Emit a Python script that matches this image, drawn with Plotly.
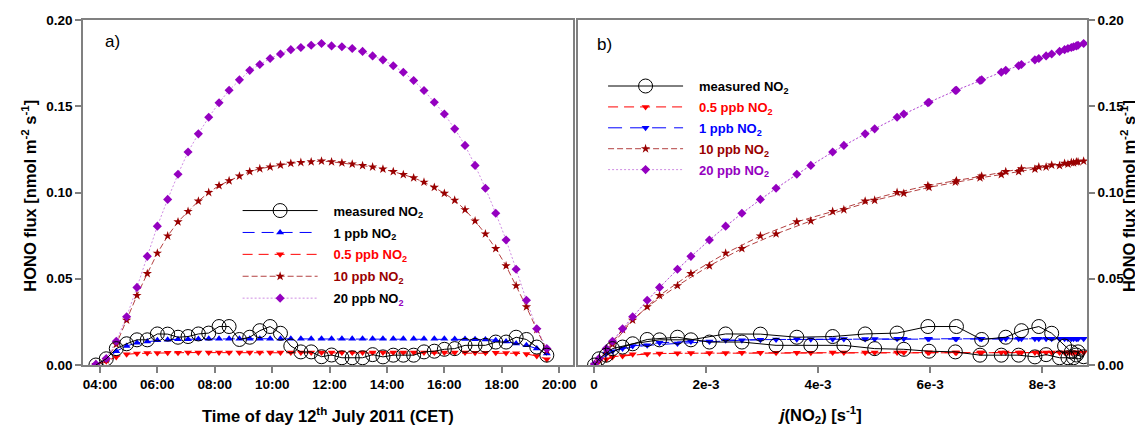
import plotly.graph_objects as go

# ---------------- data ----------------
time_h = [3.86, 4.22, 4.57, 4.93, 5.29, 5.65, 6.00, 6.36, 6.72, 7.07, 7.43, 7.79, 8.15, 8.50, 8.86,
          9.22, 9.57, 9.93, 10.29, 10.65, 11.00, 11.36, 11.72, 12.07, 12.43, 12.79, 13.15, 13.50,
          13.86, 14.22, 14.57, 14.93, 15.29, 15.65, 16.00, 16.36, 16.72, 17.07, 17.43, 17.79, 18.15,
          18.50, 18.86, 19.22, 19.57]

jno2 = [0.00001, 0.00009, 0.00033, 0.00069, 0.00117, 0.00173, 0.00235, 0.00297, 0.00362, 0.00426,
        0.00484, 0.00541, 0.00596, 0.00647, 0.00692, 0.00735, 0.00763, 0.00794, 0.00817, 0.00840,
        0.00852, 0.00864, 0.00874, 0.00861, 0.00856, 0.00846, 0.00831, 0.00807, 0.00787, 0.00758,
        0.00727, 0.00689, 0.00645, 0.00598, 0.00553, 0.00501, 0.00446, 0.00387, 0.00325, 0.00264,
        0.00206, 0.00149, 0.00095, 0.00051, 0.00022]

flux_measured = [0.0000, 0.0036, 0.0095, 0.0123, 0.0146, 0.0146, 0.0180, 0.0179, 0.0161, 0.0165,
                 0.0180, 0.0185, 0.0223, 0.0223, 0.0148, 0.0161, 0.0199, 0.0223, 0.0184, 0.0110,
                 0.0076, 0.0076, 0.0048, 0.0058, 0.0042, 0.0042, 0.0042, 0.0060, 0.0047, 0.0057,
                 0.0057, 0.0057, 0.0076, 0.0080, 0.0091, 0.0095, 0.0114, 0.0114, 0.0114, 0.0133,
                 0.0133, 0.0161, 0.0148, 0.0104, 0.0057]

flux_05ppb = [0.0002, 0.0022, 0.0047, 0.0062, 0.0067, 0.0069, 0.0070, 0.0071, 0.0071, 0.0072,
              0.0072, 0.0072, 0.0072, 0.0072, 0.0072, 0.0072, 0.0072, 0.0072, 0.0072, 0.0072,
              0.0072, 0.0072, 0.0072, 0.0072, 0.0072, 0.0072, 0.0072, 0.0072, 0.0072, 0.0072,
              0.0072, 0.0072, 0.0072, 0.0072, 0.0072, 0.0072, 0.0072, 0.0071, 0.0071, 0.0071,
              0.0070, 0.0068, 0.0064, 0.0052, 0.0034]

flux_1ppb = [0.0003, 0.0030, 0.0080, 0.0110, 0.0129, 0.0136, 0.0144, 0.0147, 0.0149, 0.0150,
             0.0151, 0.0152, 0.0152, 0.0152, 0.0152, 0.0152, 0.0152, 0.0152, 0.0152, 0.0152,
             0.0152, 0.0152, 0.0152, 0.0152, 0.0152, 0.0152, 0.0152, 0.0152, 0.0152, 0.0152,
             0.0152, 0.0152, 0.0152, 0.0152, 0.0152, 0.0151, 0.0151, 0.0150, 0.0148, 0.0144,
             0.0136, 0.0125, 0.0114, 0.0095, 0.0066]

flux_10ppb = [0.0003, 0.0030, 0.0120, 0.0260, 0.0403, 0.0530, 0.0648, 0.0748, 0.0830, 0.0890,
              0.0950, 0.1000, 0.1040, 0.1068, 0.1095, 0.1121, 0.1138, 0.1148, 0.1159, 0.1169,
              0.1174, 0.1178, 0.1182, 0.1178, 0.1172, 0.1165, 0.1156, 0.1148, 0.1136, 0.1121,
              0.1104, 0.1085, 0.1060, 0.1030, 0.0995, 0.0955, 0.0900, 0.0835, 0.0760, 0.0675,
              0.0575, 0.0460, 0.0337, 0.0205, 0.0085]

flux_20ppb = [0.0004, 0.0038, 0.0138, 0.0280, 0.0450, 0.0630, 0.0805, 0.0960, 0.1106, 0.1235,
              0.1340, 0.1436, 0.1520, 0.1593, 0.1653, 0.1708, 0.1742, 0.1777, 0.1803, 0.1828,
              0.1841, 0.1854, 0.1864, 0.1850, 0.1845, 0.1835, 0.1818, 0.1792, 0.1769, 0.1735,
              0.1697, 0.1649, 0.1591, 0.1523, 0.1455, 0.1369, 0.1273, 0.1157, 0.1025, 0.0880,
              0.0725, 0.0555, 0.0375, 0.0210, 0.0095]

time_ticks = [4, 6, 8, 10, 12, 14, 16, 18, 20]
time_labels = ["04:00", "06:00", "08:00", "10:00", "12:00", "14:00", "16:00", "18:00", "20:00"]
j_ticks = [0, 0.002, 0.004, 0.006, 0.008]
j_labels = ["0", "2e-3", "4e-3", "6e-3", "8e-3"]
y_ticks = [0.0, 0.05, 0.10, 0.15, 0.20]
y_labels = ["0.00", "0.05", "0.10", "0.15", "0.20"]

# ---------------- styles ----------------
BLACK = "#000000"
BLUE = "#0000FF"
RED = "#FF0000"
DRED = "#990000"
PURP = "#9400C0"
DRED_LINE = "rgba(153,0,0,0.75)"
PURP_LINE = "rgba(148,0,192,0.45)"
FONT = "Arial"
PAD = "\u00a0\u00a0\u00a0"

fig = go.Figure()

# ---- left panel ----
left_series = [
    (flux_1ppb, "1 ppb NO<sub>2</sub>", BLUE, BLUE, "triangle-up", "12px,7px", 2),
    (flux_05ppb, "<span style='color:#FF0000'>0.5 ppb NO<sub>2</sub></span>", RED, RED, "triangle-down", "10px,6px", 3),
    (flux_10ppb, "<span style='color:#990000'>10 ppb NO<sub>2</sub></span>", DRED, DRED_LINE, "star", "6px,3px", 4),
    (flux_20ppb, "20 ppb NO<sub><span style='color:#9400C0'>2</span></sub>", PURP, PURP_LINE, "diamond", "2px,2px", 5),
]
for vals, name, col, lcol, sym, dash, rank in left_series:
    fig.add_trace(go.Scatter(
        x=time_h, y=vals, mode="lines+markers", name=PAD + name, legend="legend", legendrank=rank,
        legendgroup="L%d" % rank,
        line=dict(color=lcol, width=1, dash=dash),
        marker=dict(symbol=sym, size=7, color=col, line=dict(width=0)),
        xaxis="x", yaxis="y"))
fig.add_trace(go.Scatter(
    x=time_h, y=flux_measured, mode="lines+markers", name=PAD + "measured NO<sub>2</sub>",
    legend="legend", legendrank=1, legendgroup="L1",
    line=dict(color=BLACK, width=1),
    marker=dict(symbol="circle-open", size=14, color=BLACK, line=dict(width=1)),
    xaxis="x", yaxis="y"))

# ---- right panel ----
right_series = [
    (flux_05ppb, "<span style='color:#FF0000'>0.5 ppb NO<sub>2</sub></span>", RED, RED, "triangle-down", "10px,6px", 2),
    (flux_1ppb, "<span style='color:#0000FF'>1 ppb NO<sub>2</sub></span>", BLUE, BLUE, "triangle-down", "14px,8px", 3),
    (flux_10ppb, "<span style='color:#990000'>10 ppb NO<sub>2</sub></span>", DRED, DRED_LINE, "star", "6px,3px", 4),
    (flux_20ppb, "<span style='color:#9400C0'>20 ppb NO<sub>2</sub></span>", PURP, PURP_LINE, "diamond", "2px,2px", 5),
]
for vals, name, col, lcol, sym, dash, rank in right_series:
    fig.add_trace(go.Scatter(
        x=jno2, y=vals, mode="lines+markers", name=PAD + name, legend="legend2", legendrank=rank,
        legendgroup="R%d" % rank,
        line=dict(color=lcol, width=1, dash=dash),
        marker=dict(symbol=sym, size=7, color=col, line=dict(width=0)),
        xaxis="x2", yaxis="y2"))
fig.add_trace(go.Scatter(
    x=jno2, y=flux_measured, mode="lines+markers", name=PAD + "measured NO<sub>2</sub>",
    legend="legend2", legendrank=1, legendgroup="R1",
    line=dict(color=BLACK, width=1),
    marker=dict(symbol="circle-open", size=14, color=BLACK, line=dict(width=1)),
    xaxis="x2", yaxis="y2"))

axis_common = dict(showline=True, linecolor="#808080", linewidth=1.5, mirror=True,
                   ticks="outside", ticklen=6, tickcolor="#808080", tickwidth=1.5,
                   showgrid=False, zeroline=False, ticklabeloverflow="allow",
                   tickfont=dict(family=FONT, size=13.5, color="black", weight="bold"))

# the page body has an 8px margin: plot area lands at x 83..1087, y 13..365 of the window
fig.update_layout(
    width=1135, height=436,
    margin=dict(l=75, r=56, t=5, b=79),
    paper_bgcolor="white", plot_bgcolor="white",
    xaxis=dict(domain=[0, 0.488], range=[3.41, 20.48], tickvals=time_ticks, ticktext=time_labels,
               anchor="y", **axis_common),
    yaxis=dict(domain=[0, 1], range=[0, 0.2], tickvals=y_ticks, ticktext=y_labels,
               anchor="x", **axis_common),
    xaxis2=dict(domain=[0.493, 1], range=[-0.000286, 0.0088], tickvals=j_ticks, ticktext=j_labels,
                anchor="y2", **axis_common),
    yaxis2=dict(domain=[0, 1], range=[0, 0.2], tickvals=y_ticks, ticktext=y_labels,
                anchor="x2", side="right", **axis_common),
    legend=dict(x=0.154, y=0.491, xanchor="left", yanchor="top", bgcolor="rgba(0,0,0,0)",
                itemwidth=75, font=dict(family=FONT, size=13, color="black", weight="bold"),
                tracegroupgap=2),
    legend2=dict(x=0.518, y=0.852, xanchor="left", yanchor="top", bgcolor="rgba(0,0,0,0)",
                 itemwidth=75, font=dict(family=FONT, size=13, color="black", weight="bold"),
                 tracegroupgap=1),
    showlegend=True,
)

title_font = dict(family=FONT, size=16.5, color="black", weight="bold")
ann = dict(xref="paper", yref="paper", showarrow=False, xanchor="center", yanchor="middle")
fig.add_annotation(text="a)", x=0.029, y=0.9375, font=dict(family=FONT, size=17, color="black"), **ann)
fig.add_annotation(text="b)", x=0.519, y=0.929, font=dict(family=FONT, size=17, color="black"), **ann)
fig.add_annotation(text="HONO flux [nmol m<sup>-2</sup> s<sup>-1</sup>]", x=-0.054, y=0.49,
                   textangle=-90, font=title_font, **ann)
fig.add_annotation(text="HONO flux [nmol m<sup>-2</sup> s<sup>-1</sup>]", x=1.041, y=0.49,
                   textangle=-90, font=title_font, **ann)
fig.add_annotation(text="Time of day 12<sup>th</sup> July 2011 (CET)", x=0.244, y=-0.145,
                   font=title_font, **ann)
fig.add_annotation(text="<i>j</i>(NO<sub>2</sub>) [s<sup>-1</sup>]", x=0.734, y=-0.145,
                   font=title_font, **ann)

fig.write_html("out.html")
